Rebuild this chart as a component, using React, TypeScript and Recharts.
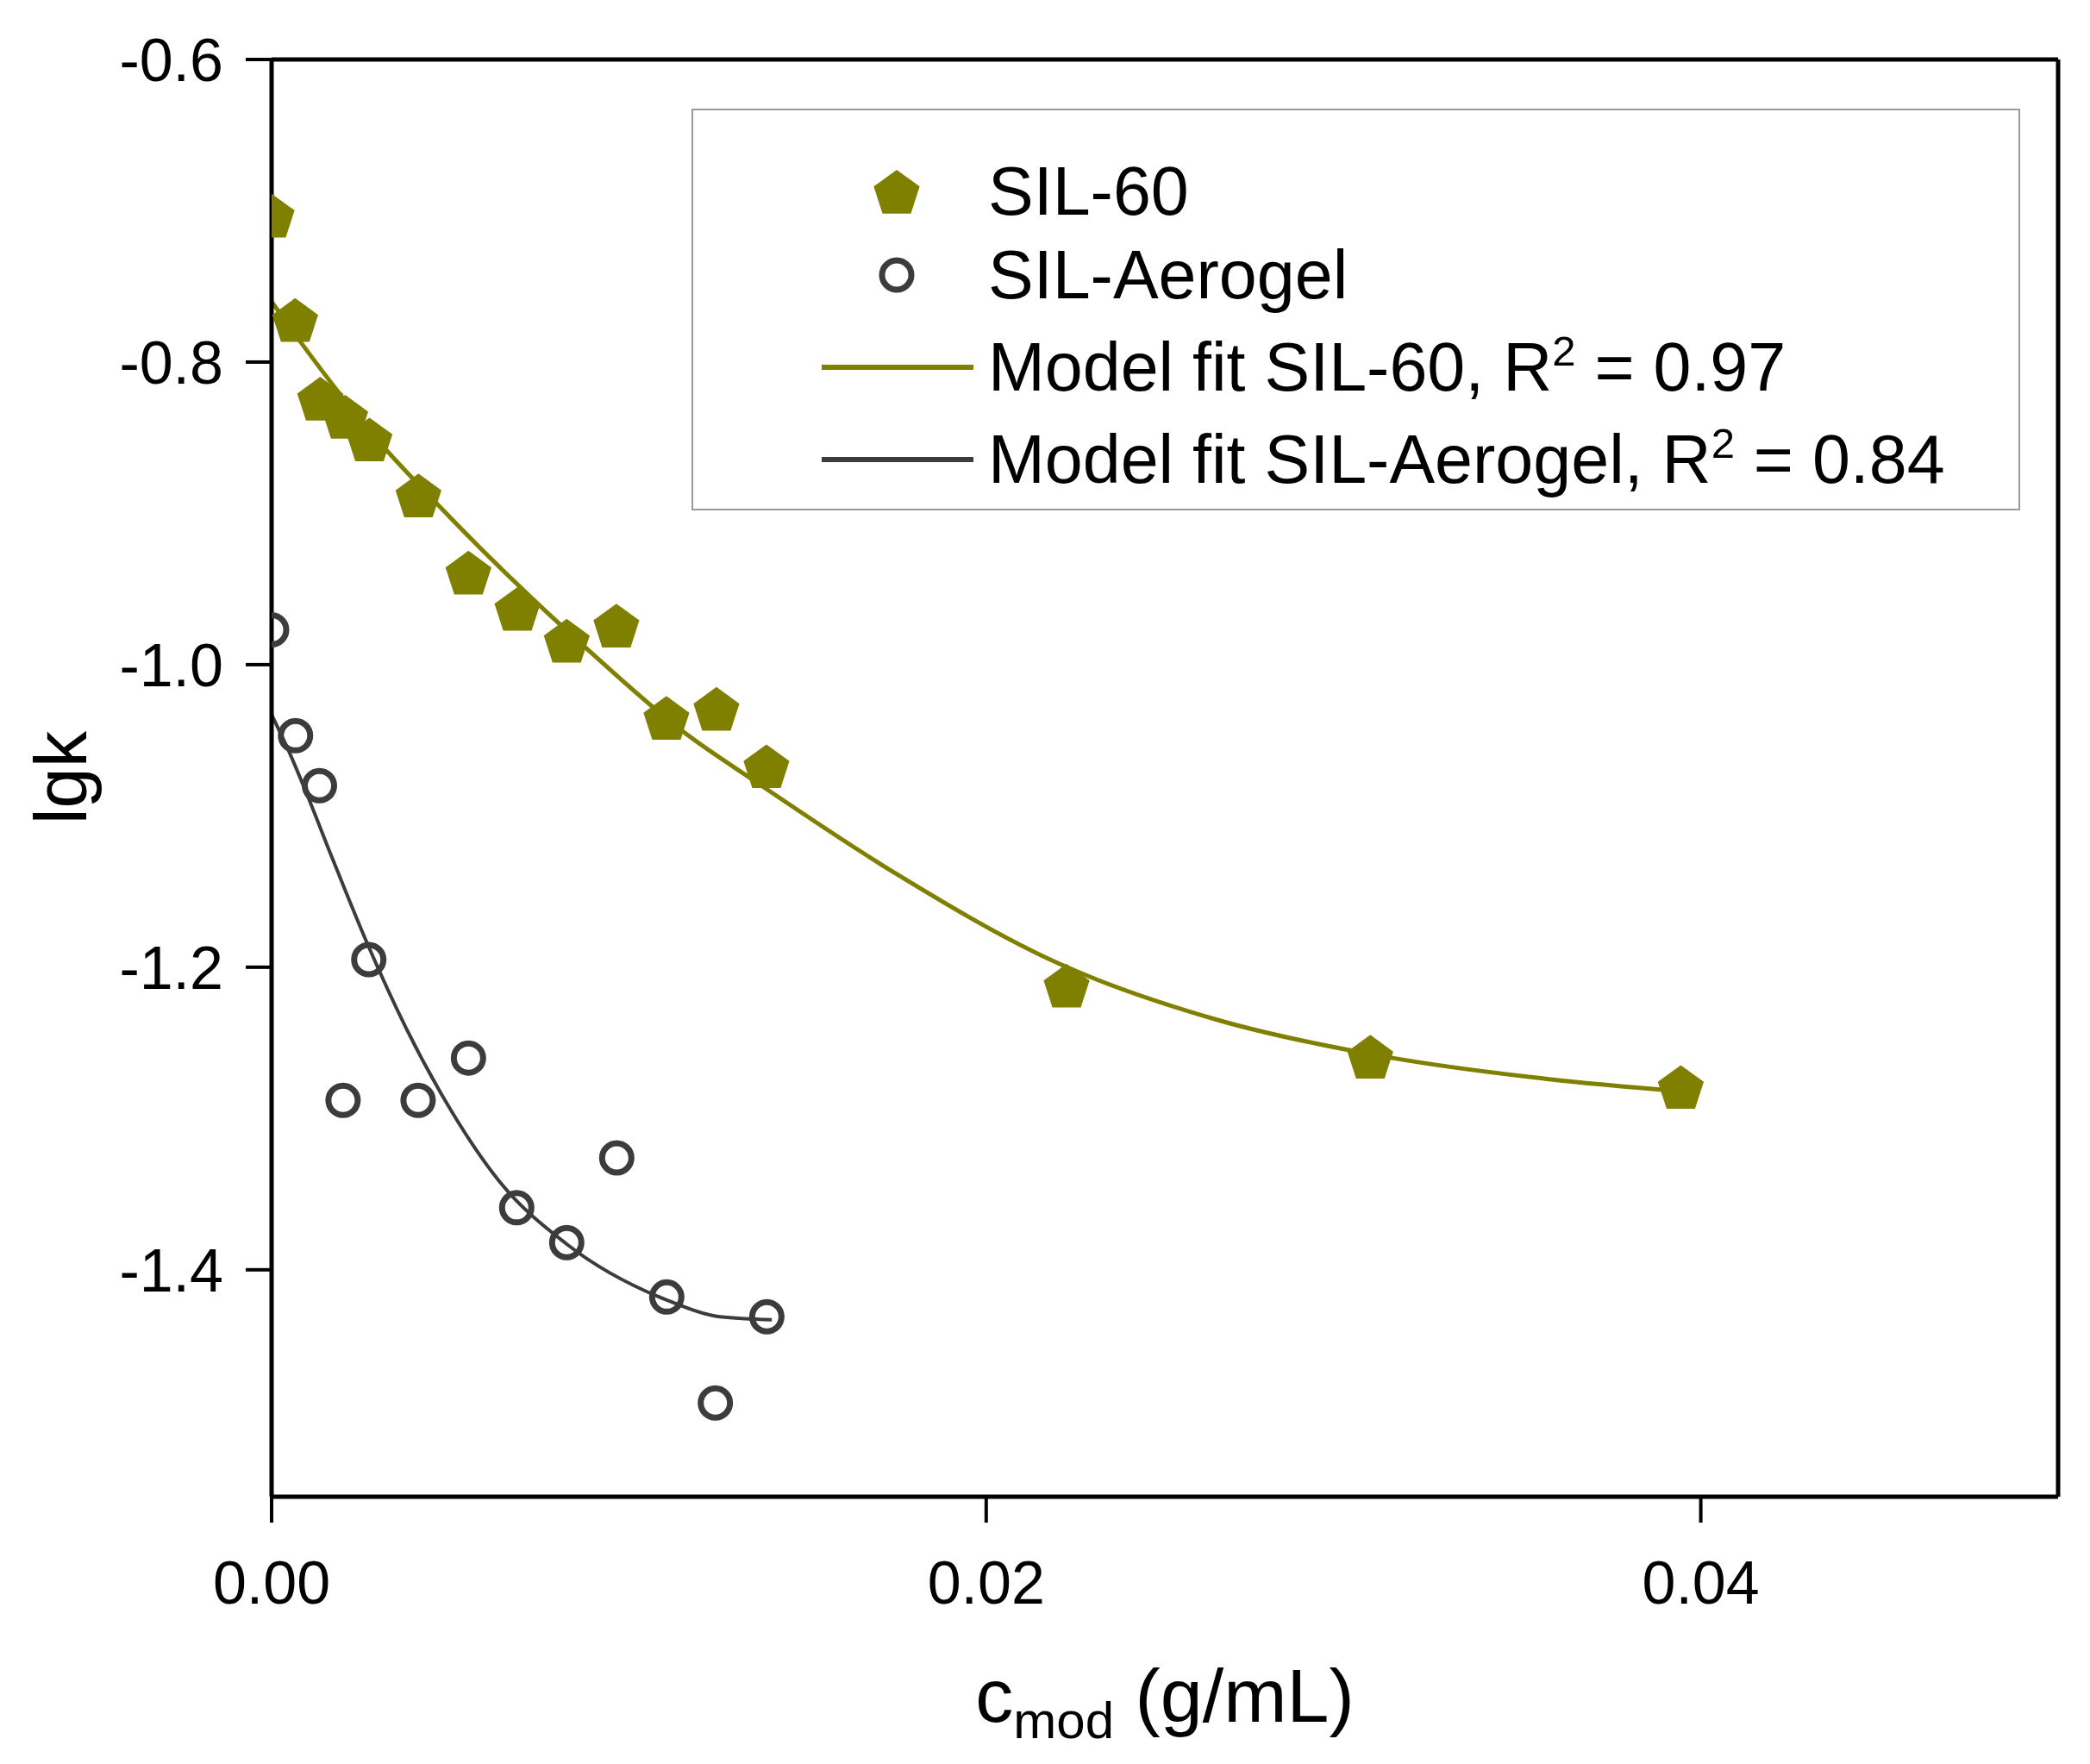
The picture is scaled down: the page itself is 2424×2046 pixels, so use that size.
import React from 'react';
import {
  ComposedChart,
  Line,
  Scatter,
  XAxis,
  YAxis,
  ReferenceLine,
  Legend
} from 'recharts';

const cmodSil60 = [0, 0.00066, 0.00136, 0.00206, 0.00274, 0.00411, 0.00551, 0.00688, 0.00826, 0.00965, 0.01105, 0.01245, 0.01385, 0.02225, 0.03075, 0.03944];
const lgkSil60 = [-0.703, -0.772, -0.824, -0.836, -0.851, -0.888, -0.939, -0.963, -0.984, -0.974, -1.035, -1.029, -1.067, -1.212, -1.259, -1.279];

const cmodAerogel = [0, 0.00067, 0.00134, 0.002, 0.00272, 0.0041, 0.00551, 0.00686, 0.00826, 0.00966, 0.01106, 0.01242, 0.01386];
const lgkAerogel = [-0.977, -1.047, -1.08, -1.288, -1.195, -1.288, -1.26, -1.359, -1.382, -1.326, -1.418, -1.488, -1.431];

// fitted curves
const cmodFitSil60 = [0, 0.00082, 0.00287, 0.0046, 0.00719, 0.0088, 0.0115, 0.01365, 0.01726, 0.02207, 0.0265, 0.03113, 0.03575, 0.03945];
const lgkFitSil60 = [-0.76, -0.787, -0.849, -0.893, -0.954, -0.989, -1.044, -1.079, -1.135, -1.198, -1.235, -1.259, -1.274, -1.282];

const cmodFitAerogel = [0, 0.00046, 0.00096, 0.0017, 0.00269, 0.00376, 0.00483, 0.00639, 0.00826, 0.01106, 0.01255, 0.014];
const lgkFitAerogel = [-1.033, -1.056, -1.084, -1.128, -1.185, -1.24, -1.287, -1.342, -1.383, -1.42, -1.431, -1.433];

const xTicks = [0, 0.02, 0.04];
const yTicks = [-0.6, -0.8, -1.0, -1.2, -1.4];

const OLIVE = '#808000';
const GREY = '#3c3c3c';
const FONT = '"Liberation Sans", Arial, sans-serif';

const toPoints = (xs: number[], ys: number[]) => xs.map((x, i) => ({ x, y: ys[i] }));

const sil60 = toPoints(cmodSil60, lgkSil60);
const aerogel = toPoints(cmodAerogel, lgkAerogel);
const fitSil60 = toPoints(cmodFitSil60, lgkFitSil60);
const fitAerogel = toPoints(cmodFitAerogel, lgkFitAerogel);

const pentagonPath = (cx: number, cy: number, r: number) => {
  const pts: string[] = [];
  for (let k = 0; k < 5; k++) {
    const a = ((-90 + 72 * k) * Math.PI) / 180;
    pts.push(`${cx + r * Math.cos(a)},${cy + r * Math.sin(a)}`);
  }
  return pts.join(' ');
};

const PentagonDot = (props: any) => {
  const { cx, cy } = props;
  if (cx == null || cy == null) return null;
  return <polygon points={pentagonPath(cx, cy + 3, 28)} fill={OLIVE} />;
};

const RingDot = (props: any) => {
  const { cx, cy } = props;
  if (cx == null || cy == null) return null;
  return <circle cx={cx} cy={cy} r={17} fill="none" stroke={GREY} strokeWidth={7} />;
};

const XTitle = (props: any) => {
  const { viewBox } = props;
  const cx = viewBox.x + viewBox.width / 2;
  return (
    <text x={cx} y={1997} textAnchor="middle" fontSize={88} fontFamily={FONT} fill="#000">
      <tspan>c</tspan>
      <tspan fontSize={60} dy={19}>mod</tspan>
      <tspan dy={-19}> (g/mL)</tspan>
    </text>
  );
};

const YTitle = () => (
  <text
    x={100}
    y={902}
    transform="rotate(-90 100 902)"
    textAnchor="middle"
    fontSize={85}
    fontFamily={FONT}
    fill="#000"
  >
    lgk
  </text>
);

const rowStyle = (top: number): React.CSSProperties => ({
  position: 'absolute',
  left: 0,
  top: top - 50,
  height: 100,
  display: 'flex',
  alignItems: 'center',
  whiteSpace: 'nowrap'
});

const supStyle: React.CSSProperties = { fontSize: '0.62em', verticalAlign: '0.6em', lineHeight: 0 };

const LegendBox = () => (
  <div
    style={{
      position: 'relative',
      width: 1541,
      height: 466,
      boxSizing: 'border-box',
      border: '2px solid #9a9a9a',
      background: '#fff',
      fontFamily: FONT,
      fontSize: 79,
      color: '#000'
    }}
  >
    <div style={rowStyle(94)}>
      <svg width={342} height={100}>
        <polygon points={pentagonPath(236, 53, 28)} fill={OLIVE} />
      </svg>
      <span>SIL-60</span>
    </div>
    <div style={rowStyle(191)}>
      <svg width={342} height={100}>
        <circle cx={236} cy={50} r={17} fill="none" stroke={GREY} strokeWidth={7} />
      </svg>
      <span>SIL-Aerogel</span>
    </div>
    <div style={rowStyle(298)}>
      <svg width={342} height={100}>
        <line x1={149} x2={325} y1={50} y2={50} stroke={OLIVE} strokeWidth={6} />
      </svg>
      <span>
        Model fit SIL-60, R<sup style={supStyle}>2</sup> = 0.97
      </span>
    </div>
    <div style={rowStyle(405)}>
      <svg width={342} height={100}>
        <line x1={149} x2={325} y1={50} y2={50} stroke={GREY} strokeWidth={6} />
      </svg>
      <span>
        Model fit SIL-Aerogel, R<sup style={supStyle}>2</sup> = 0.84
      </span>
    </div>
  </div>
);

const tickStyle = { fill: '#000', fontSize: 70, fontFamily: FONT };

export default function App() {
  return (
    <div style={{ width: 2424, height: 2046, background: '#fff' }}>
      <style>{'body{margin:0;background:#fff}'}</style>
      <ComposedChart
        width={2424}
        height={2046}
        margin={{ top: 69, right: 37, bottom: 70, left: 75 }}
      >
        <XAxis
          type="number"
          dataKey="x"
          domain={[0, 0.05]}
          ticks={xTicks}
          allowDataOverflow
          height={240}
          stroke="#000"
          strokeWidth={5}
          tickSize={30}
          tickMargin={44}
          tick={tickStyle}
          tickLine={{ stroke: '#000', strokeWidth: 4 }}
          tickFormatter={(v: number) => v.toFixed(2)}
          label={{ content: XTitle }}
        />
        <YAxis
          type="number"
          dataKey="y"
          domain={[-1.55, -0.6]}
          ticks={yTicks}
          allowDataOverflow
          width={240}
          stroke="#000"
          strokeWidth={5}
          tickSize={30}
          tickMargin={26}
          tick={tickStyle}
          tickLine={{ stroke: '#000', strokeWidth: 4 }}
          tickFormatter={(v: number) => v.toFixed(1)}
          label={{ content: YTitle }}
        />
        <ReferenceLine y={-0.6} stroke="#000" strokeWidth={5} />
        <ReferenceLine x={0.05} stroke="#000" strokeWidth={5} />
        <Line
          data={fitSil60}
          dataKey="y"
          type="monotone"
          stroke={OLIVE}
          strokeWidth={5}
          dot={false}
          activeDot={false}
          isAnimationActive={false}
        />
        <Line
          data={fitAerogel}
          dataKey="y"
          type="monotone"
          stroke={GREY}
          strokeWidth={4}
          dot={false}
          activeDot={false}
          isAnimationActive={false}
        />
        <Scatter data={sil60} dataKey="y" shape={PentagonDot} isAnimationActive={false} />
        <Scatter data={aerogel} dataKey="y" shape={RingDot} isAnimationActive={false} />
        <Legend
          layout="vertical"
          align="center"
          verticalAlign="middle"
          content={LegendBox}
          wrapperStyle={{ left: 802, top: 126, width: 1541, height: 466 }}
        />
      </ComposedChart>
    </div>
  );
}
